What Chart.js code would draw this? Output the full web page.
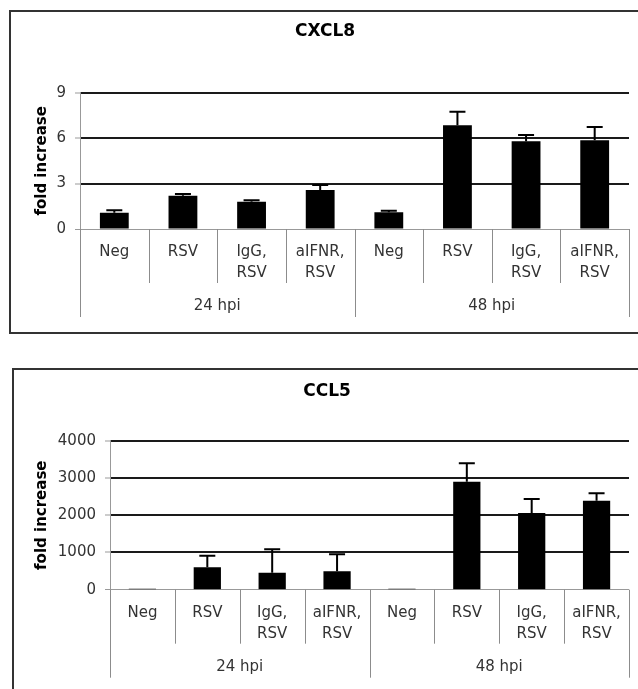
<!DOCTYPE html>
<html>
<head>
<meta charset="utf-8">
<script src="https://cdn.jsdelivr.net/npm/chart.js@4"></script>
<style>
body { margin: 0; background: #fff; width: 638px; height: 689px; overflow: hidden; position: relative; }
.frame { position: absolute; border: 2px solid #333; box-sizing: border-box; background: #fff; }
.frame canvas { position: absolute; left: 0; top: 0; }
</style>
</head>
<body>
<div class="frame" style="left:9px;top:10px;width:640px;height:324px;"><canvas id="cxcl8" width="627" height="320"></canvas></div>
<div class="frame" style="left:12px;top:368px;width:640px;height:340px;"><canvas id="ccl5" width="624" height="319"></canvas></div>
<script>
// categorias y grupos (iguales en los dos paneles)
const categories = [['Neg'], ['RSV'], ['IgG,', 'RSV'], ['aIFNR,', 'RSV'], ['Neg'], ['RSV'], ['IgG,', 'RSV'], ['aIFNR,', 'RSV']];
const groups = ['24 hpi', '48 hpi'];

// CXCL8
const cxcl8Values = [1.08, 2.2, 1.8, 2.58, 1.1, 6.85, 5.8, 5.86];
const cxcl8Errors = [0.16, 0.11, 0.1, 0.32, 0.1, 0.9, 0.41, 0.88];
const cxcl8Ticks = [0, 3, 6, 9];

// CCL5
const ccl5Values = [25, 600, 456, 494, 25, 2900, 2060, 2390];
const ccl5Errors = [0, 313, 630, 456, 0, 493, 375, 198];
const ccl5Ticks = [0, 1000, 2000, 3000, 4000];

const FONT = 'DejaVu Sans';

// barras de error solo hacia arriba
const errorBars = {
    id: 'errorBars',
    afterDatasetsDraw(chart, args, opts) {
        const ctx = chart.ctx;
        const y = chart.scales.y;
        const meta = chart.getDatasetMeta(0);
        const values = chart.data.datasets[0].data;
        ctx.save();
        ctx.strokeStyle = '#000';
        ctx.lineWidth = 2;
        meta.data.forEach(function (bar, i) {
            const err = opts.errors[i];
            if (!err) return;
            const top = y.getPixelForValue(values[i] + err);
            ctx.beginPath();
            ctx.moveTo(bar.x, bar.y);
            ctx.lineTo(bar.x, top);
            ctx.moveTo(bar.x - 8, top);
            ctx.lineTo(bar.x + 8, top);
            ctx.stroke();
        });
        ctx.restore();
    }
};

// eje x en forma de tabla: categorias + grupos
const axisTable = {
    id: 'axisTable',
    afterDraw(chart) {
        const ctx = chart.ctx;
        const x = chart.scales.x;
        const base = chart.chartArea.bottom;
        const n = categories.length;
        const half = (x.getPixelForValue(1) - x.getPixelForValue(0)) / 2;
        ctx.save();
        ctx.strokeStyle = '#8c8c8c';
        ctx.lineWidth = 1;
        for (let i = 0; i <= n; i++) {
            const px = Math.round(x.getPixelForValue(i) - half) + 0.5;
            const len = i % 4 === 0 ? 88 : 54;
            ctx.beginPath();
            ctx.moveTo(px, base);
            ctx.lineTo(px, base + len);
            ctx.stroke();
        }
        ctx.fillStyle = '#333';
        ctx.font = '15px "' + FONT + '"';
        ctx.textAlign = 'center';
        ctx.textBaseline = 'middle';
        categories.forEach(function (lines, i) {
            const px = x.getPixelForValue(i);
            lines.forEach(function (txt, j) {
                ctx.fillText(txt, px, base + 23 + j * 21);
            });
        });
        groups.forEach(function (g, k) {
            const a = x.getPixelForValue(k * 4) - half;
            const b = x.getPixelForValue(k * 4 + 4) - half;
            ctx.fillText(g, (a + b) / 2, base + 77);
        });
        ctx.restore();
    }
};

function makeChart(id, title, values, errors, ticks, lay) {
    let ctx = document.getElementById(id);
    return new Chart(ctx, {
        type: 'bar',
        data: {
            labels: categories.map(function (c) { return c.join(' '); }),
            datasets: [{
                data: values,
                backgroundColor: '#000',
                borderWidth: 0,
                categoryPercentage: 1,
                barPercentage: 0.42,
            }],
        },
        options: {
            responsive: false,
            animation: false,
            events: [],
            layout: { padding: { left: lay.padLeft, right: 9, top: 0, bottom: 0 } },
            scales: {
                x: {
                    ticks: { display: false },
                    grid: { display: false },
                    border: { display: false },
                    afterFit: function (s) { s.height = lay.xHeight; },
                },
                y: {
                    min: 0,
                    max: ticks[ticks.length - 1],
                    afterBuildTicks: function (s) { s.ticks = ticks.map(function (v) { return { value: v }; }); },
                    ticks: {
                        color: '#333',
                        padding: 9,
                        font: { family: FONT, size: 15 },
                        callback: function (v) { return String(v); },
                    },
                    grid: {
                        color: function (c) { return c.tick && c.tick.value === 0 ? '#999' : '#1a1a1a'; },
                        lineWidth: function (c) { return c.tick && c.tick.value === 0 ? 1 : 2; },
                        tickColor: '#999',
                        tickWidth: 1,
                        tickLength: 5,
                    },
                    border: { color: '#999', width: 1 },
                    title: {
                        display: true,
                        text: 'fold increase',
                        color: '#000',
                        font: { family: FONT, size: 15, weight: 'bold' },
                        padding: { top: lay.yTitlePad, bottom: 0 },
                    },
                    afterFit: function (s) { s.width = lay.yWidth; },
                },
            },
            plugins: {
                legend: { display: false },
                tooltip: { enabled: false },
                title: {
                    display: true,
                    text: title,
                    color: '#000',
                    font: { family: FONT, size: 17, weight: 'bold' },
                    padding: { top: lay.titleTop, bottom: lay.titleBottom },
                },
                errorBars: { errors: errors },
            },
        },
        plugins: [errorBars, axisTable],
    });
}

makeChart('cxcl8', 'CXCL8', cxcl8Values, cxcl8Errors, cxcl8Ticks,
    { padLeft: 10, yWidth: 59, yTitlePad: 12, titleTop: 9.8, titleBottom: 50.5, xHeight: 103 });
makeChart('ccl5', 'CCL5', ccl5Values, ccl5Errors, ccl5Ticks,
    { padLeft: 11, yWidth: 85, yTitlePad: 8, titleTop: 11.5, titleBottom: 38.8, xHeight: 99.3 });
</script>
</body>
</html>
